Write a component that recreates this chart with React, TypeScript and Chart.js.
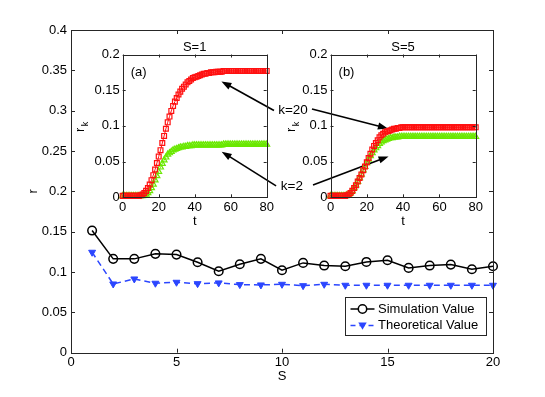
import React, { useEffect, useRef } from 'react';
import { Chart, registerables } from 'chart.js';

Chart.register(...registerables);

const FONT = '"Liberation Sans", Arial, Helvetica, sans-serif';
const BLUE = '#2b46ff';
const RED = '#ff1010';
const GREEN = '#6ae800';

// ---------- main chart data ----------
const S_VALUES = [1, 2, 3, 4, 5, 6, 7, 8, 9, 10, 11, 12, 13, 14, 15, 16, 17, 18, 19, 20];
const SIMULATION_VALUES = [0.1514, 0.1163, 0.1163, 0.1225, 0.1216, 0.1121, 0.101, 0.1096, 0.1163, 0.1022,
  0.1113, 0.108, 0.1072, 0.1125, 0.1146, 0.1051, 0.108, 0.1092, 0.1034, 0.1072];
const THEORETICAL_VALUES = [0.1245, 0.0852, 0.0914, 0.0861, 0.0873, 0.0856, 0.0865, 0.0844, 0.084, 0.0848,
  0.0831, 0.0848, 0.0836, 0.0836, 0.0836, 0.0836, 0.0836, 0.0836, 0.0836, 0.0836];
const S_TICKS = [0, 5, 10, 15, 20];
const S_TICK_LABELS = ['0', '5', '10', '15', '20'];
const R_TICKS = [0, 0.05, 0.1, 0.15, 0.2, 0.25, 0.3, 0.35, 0.4];
const R_TICK_LABELS = ['0', '0.05', '0.1', '0.15', '0.2', '0.25', '0.3', '0.35', '0.4'];

// ---------- inset data ----------
const T_VALUES = [0, 1, 2, 3, 4, 5, 6, 7, 8, 9, 10, 11, 12, 13, 14, 15, 16, 17, 18, 19, 20,
  21, 22, 23, 24, 25, 26, 27, 28, 29, 30, 31, 32, 33, 34, 35, 36, 37, 38, 39, 40,
  41, 42, 43, 44, 45, 46, 47, 48, 49, 50, 51, 52, 53, 54, 55, 56, 57, 58, 59, 60,
  61, 62, 63, 64, 65, 66, 67, 68, 69, 70, 71, 72, 73, 74, 75, 76, 77, 78, 79, 80];
const RK_K20_S1 = [
  0.002, 0.002, 0.002, 0.002, 0.002, 0.002, 0.002, 0.002, 0.002, 0.002,
  0.003, 0.004, 0.006, 0.009, 0.013, 0.018, 0.024, 0.031, 0.039, 0.048,
  0.057, 0.066, 0.076, 0.086, 0.096, 0.105, 0.113, 0.121, 0.128, 0.134,
  0.139, 0.144, 0.148, 0.152, 0.155, 0.158, 0.161, 0.163, 0.165, 0.167,
  0.168, 0.169, 0.170, 0.171, 0.172, 0.173, 0.173, 0.174, 0.174, 0.175,
  0.175, 0.175, 0.176, 0.176, 0.176, 0.176, 0.177, 0.177, 0.177, 0.177,
  0.177, 0.177, 0.177, 0.177, 0.177, 0.177, 0.177, 0.177, 0.177, 0.177,
  0.177, 0.177, 0.177, 0.177, 0.177, 0.177, 0.177, 0.177, 0.177, 0.177,
  0.177];
const RK_K2_S1 = [
  0.002, 0.002, 0.002, 0.002, 0.002, 0.002, 0.002, 0.002, 0.002, 0.002,
  0.002, 0.002, 0.003, 0.004, 0.006, 0.009, 0.013, 0.018, 0.024, 0.030,
  0.036, 0.042, 0.047, 0.052, 0.056, 0.060, 0.062, 0.064, 0.066, 0.067,
  0.068, 0.069, 0.070, 0.070, 0.071, 0.071, 0.072, 0.072, 0.072, 0.073,
  0.073, 0.073, 0.073, 0.073, 0.073, 0.073, 0.073, 0.073, 0.073, 0.073,
  0.073, 0.073, 0.073, 0.073, 0.073, 0.073, 0.074, 0.074, 0.074, 0.074,
  0.074, 0.074, 0.074, 0.074, 0.074, 0.074, 0.074, 0.074, 0.074, 0.074,
  0.074, 0.074, 0.074, 0.074, 0.074, 0.074, 0.074, 0.074, 0.074, 0.074,
  0.074];
const RK_K20_S5 = [
  0.002, 0.002, 0.002, 0.002, 0.002, 0.002, 0.002, 0.002, 0.002, 0.003,
  0.004, 0.006, 0.009, 0.013, 0.017, 0.022, 0.027, 0.032, 0.038, 0.043,
  0.049, 0.055, 0.061, 0.067, 0.072, 0.076, 0.080, 0.084, 0.087, 0.089,
  0.091, 0.092, 0.093, 0.094, 0.095, 0.096, 0.096, 0.097, 0.097, 0.098,
  0.098, 0.098, 0.098, 0.098, 0.098, 0.098, 0.098, 0.098, 0.098, 0.098,
  0.098, 0.098, 0.098, 0.098, 0.098, 0.098, 0.098, 0.098, 0.098, 0.098,
  0.098, 0.098, 0.098, 0.098, 0.098, 0.098, 0.098, 0.098, 0.098, 0.098,
  0.098, 0.098, 0.098, 0.098, 0.098, 0.098, 0.098, 0.098, 0.098, 0.098,
  0.098];
const RK_K2_S5 = [
  0.002, 0.002, 0.002, 0.002, 0.002, 0.002, 0.002, 0.002, 0.002, 0.003,
  0.004, 0.006, 0.009, 0.013, 0.017, 0.022, 0.027, 0.032, 0.038, 0.043,
  0.048, 0.053, 0.058, 0.062, 0.066, 0.069, 0.072, 0.075, 0.077, 0.079,
  0.080, 0.081, 0.082, 0.083, 0.083, 0.084, 0.084, 0.084, 0.085, 0.085,
  0.085, 0.085, 0.085, 0.085, 0.085, 0.085, 0.085, 0.085, 0.085, 0.085,
  0.085, 0.085, 0.085, 0.085, 0.085, 0.085, 0.085, 0.085, 0.085, 0.085,
  0.085, 0.085, 0.085, 0.085, 0.085, 0.085, 0.085, 0.085, 0.085, 0.085,
  0.085, 0.085, 0.085, 0.085, 0.085, 0.085, 0.085, 0.085, 0.085, 0.085,
  0.085];
const T_TICKS = [0, 20, 40, 60, 80];
const T_TICK_LABELS = ['0', '20', '40', '60', '80'];
const RK_TICKS = [0, 0.05, 0.1, 0.15, 0.2];
const RK_TICK_LABELS = ['0', '0.05', '0.1', '0.15', '0.2'];

// ---------- annotations (in main-axes S / r coordinates) ----------
const ARROW_FROM_S = [9.62, 11.42, 9.72, 11.47];
const ARROW_FROM_R = [0.3003, 0.3022, 0.2067, 0.2079];
const ARROW_TO_S = [7.13, 15.02, 7.14, 15.05];
const ARROW_TO_R = [0.3363, 0.278, 0.2492, 0.2433];
const ARROW_TEXTS = ['k=20', 'k=2'];
const ARROW_TEXT_S = [10.52, 10.47];
const ARROW_TEXT_R = [0.301, 0.2058];

const AXIS_COLOR = '#262626';

function drawFrame(chart: any, tickLen: number) {
  const { ctx, chartArea: a, scales } = chart;
  const xs = scales.x;
  const ys = scales.y;
  ctx.save();
  ctx.strokeStyle = AXIS_COLOR;
  ctx.lineWidth = 1;
  ctx.beginPath();
  xs.ticks.forEach((t: any) => {
    const px = Math.round(xs.getPixelForValue(t.value)) + 0.5;
    ctx.moveTo(px, a.bottom);
    ctx.lineTo(px, a.bottom - tickLen);
    ctx.moveTo(px, a.top);
    ctx.lineTo(px, a.top + tickLen);
  });
  ys.ticks.forEach((t: any) => {
    const py = Math.round(ys.getPixelForValue(t.value)) + 0.5;
    ctx.moveTo(a.left, py);
    ctx.lineTo(a.left + tickLen, py);
    ctx.moveTo(a.right, py);
    ctx.lineTo(a.right - tickLen, py);
  });
  ctx.stroke();
  ctx.strokeRect(Math.round(a.left) + 0.5, Math.round(a.top) + 0.5,
    Math.round(a.right) - Math.round(a.left), Math.round(a.bottom) - Math.round(a.top));
  ctx.restore();
}

function drawArrow(ctx: CanvasRenderingContext2D, x1: number, y1: number, x2: number, y2: number) {
  const ang = Math.atan2(y2 - y1, x2 - x1);
  const c = Math.cos(ang);
  const s = Math.sin(ang);
  const L = 10;
  const W = 3.6;
  ctx.beginPath();
  ctx.moveTo(x1, y1);
  ctx.lineTo(x2 - (L - 2) * c, y2 - (L - 2) * s);
  ctx.stroke();
  ctx.beginPath();
  ctx.moveTo(x2, y2);
  ctx.lineTo(x2 - L * c + W * s, y2 - L * s - W * c);
  ctx.lineTo(x2 - L * c - W * s, y2 - L * s + W * c);
  ctx.closePath();
  ctx.fill();
}

const mainDecor = {
  id: 'mainDecor',
  afterDraw(chart: any) {
    drawFrame(chart, 4);
    const { ctx, chartArea: a, scales } = chart;
    const xs = scales.x;
    const ys = scales.y;
    ctx.save();
    ctx.strokeStyle = '#000';
    ctx.fillStyle = '#000';
    ctx.lineWidth = 1.6;
    for (let i = 0; i < ARROW_FROM_S.length; i++) {
      drawArrow(ctx,
        xs.getPixelForValue(ARROW_FROM_S[i]), ys.getPixelForValue(ARROW_FROM_R[i]),
        xs.getPixelForValue(ARROW_TO_S[i]), ys.getPixelForValue(ARROW_TO_R[i]));
    }
    ctx.font = `13.5px ${FONT}`;
    ctx.textAlign = 'center';
    ctx.textBaseline = 'middle';
    for (let i = 0; i < ARROW_TEXTS.length; i++) {
      ctx.fillText(ARROW_TEXTS[i], xs.getPixelForValue(ARROW_TEXT_S[i]), ys.getPixelForValue(ARROW_TEXT_R[i]));
    }
    // legend
    const lx = Math.round(a.right - 148) + 0.5;
    const ly = Math.round(a.bottom - 56) + 0.5;
    const lw = 141;
    const lh = 38;
    ctx.fillStyle = '#fff';
    ctx.fillRect(lx, ly, lw, lh);
    ctx.strokeStyle = AXIS_COLOR;
    ctx.lineWidth = 1;
    ctx.strokeRect(lx, ly, lw, lh);
    const names = chart.data.datasets.map((d: any) => d.label);
    const rows = [ly + 11.5, ly + 28];
    const x0 = lx + 5;
    const x1 = lx + 29;
    const xm = (x0 + x1) / 2;
    ctx.strokeStyle = '#000';
    ctx.lineWidth = 1.5;
    ctx.beginPath();
    ctx.moveTo(x0, rows[0]);
    ctx.lineTo(x1, rows[0]);
    ctx.stroke();
    ctx.fillStyle = '#fff';
    ctx.beginPath();
    ctx.arc(xm, rows[0], 4.2, 0, Math.PI * 2);
    ctx.fill();
    ctx.stroke();
    ctx.strokeStyle = BLUE;
    ctx.fillStyle = BLUE;
    ctx.setLineDash([5, 4]);
    ctx.beginPath();
    ctx.moveTo(x0, rows[1]);
    ctx.lineTo(x1, rows[1]);
    ctx.stroke();
    ctx.setLineDash([]);
    ctx.beginPath();
    ctx.moveTo(xm - 4.2, rows[1] - 3);
    ctx.lineTo(xm + 4.2, rows[1] - 3);
    ctx.lineTo(xm, rows[1] + 4.2);
    ctx.closePath();
    ctx.fill();
    ctx.fillStyle = '#000';
    ctx.font = `13px ${FONT}`;
    ctx.textAlign = 'left';
    ctx.textBaseline = 'middle';
    ctx.fillText(names[0], x1 + 3.5, rows[0]);
    ctx.fillText(names[1], x1 + 3.5, rows[1]);
    ctx.restore();
  },
};

const insetDecor = {
  id: 'insetDecor',
  afterDraw(chart: any, _args: any, opts: any) {
    drawFrame(chart, 3);
    const { ctx, chartArea: a } = chart;
    ctx.save();
    ctx.fillStyle = '#000';
    ctx.font = `13px ${FONT}`;
    ctx.textAlign = 'center';
    ctx.textBaseline = 'middle';
    ctx.fillText(opts.title, (a.left + a.right) / 2, a.top - 7.5);
    ctx.fillText(opts.tag, a.left + 16, a.top + 17.5);
    const cx = a.left - opts.labelOffset;
    const cy = (a.top + a.bottom) / 2 + 4;
    ctx.translate(cx, cy);
    ctx.rotate(-Math.PI / 2);
    ctx.fillText('r', 0, 0);
    ctx.font = `9px ${FONT}`;
    ctx.fillText('k', 6, 5);
    ctx.restore();
  },
};

function points(xs: number[], ys: number[]) {
  return xs.map((x, i) => ({ x, y: ys[i] }));
}

function mainConfig(): any {
  return {
    type: 'line',
    data: {
      datasets: [
        {
          label: 'Simulation Value',
          data: points(S_VALUES, SIMULATION_VALUES),
          borderColor: '#000',
          borderWidth: 1.5,
          pointStyle: 'circle',
          pointRadius: 4.3,
          pointBorderWidth: 1.5,
          pointBackgroundColor: 'rgba(0,0,0,0)',
          pointBorderColor: '#000',
          order: 0,
          clip: false,
        },
        {
          label: 'Theoretical Value',
          data: points(S_VALUES, THEORETICAL_VALUES),
          borderColor: BLUE,
          borderWidth: 1.5,
          borderDash: [6, 4],
          pointStyle: 'triangle',
          pointRotation: 180,
          pointRadius: 4,
          pointBorderWidth: 1,
          pointBackgroundColor: BLUE,
          pointBorderColor: BLUE,
          order: 1,
          clip: false,
        },
      ],
    },
    options: {
      responsive: false,
      animation: false,
      devicePixelRatio: 1,
      events: [],
      layout: { padding: { left: 0, top: 30, right: 52, bottom: 0 } },
      plugins: { legend: { display: false }, tooltip: { enabled: false } },
      scales: {
        x: {
          type: 'linear',
          min: 0,
          max: 20,
          afterFit: (s: any) => { s.height = 44.3; },
          afterBuildTicks: (s: any) => { s.ticks = S_TICKS.map((v) => ({ value: v })); },
          ticks: { callback: (_v: any, i: number) => S_TICK_LABELS[i], padding: 2, autoSkip: false, maxRotation: 0, color: '#000', font: { size: 13 } },
          grid: { display: false, drawTicks: false },
          border: { display: false },
          title: { display: true, text: 'S', color: '#000', font: { size: 13 }, padding: { top: 0, bottom: 13 } },
        },
        y: {
          type: 'linear',
          min: 0,
          max: 0.4,
          afterFit: (s: any) => { s.width = 71; },
          afterBuildTicks: (s: any) => { s.ticks = R_TICKS.map((v) => ({ value: v })); },
          ticks: { callback: (_v: any, i: number) => R_TICK_LABELS[i], padding: 4, autoSkip: false, color: '#000', font: { size: 13 } },
          grid: { display: false, drawTicks: false },
          border: { display: false },
          title: { display: true, text: 'r', color: '#000', font: { size: 13 }, padding: { top: 26, bottom: 0 } },
        },
      },
    },
    plugins: [mainDecor],
  };
}

function insetConfig(red: number[], green: number[], left: number, right: number, title: string, tag: string, labelOffset: number): any {
  const top = 54.5;
  const bottom = 197.3;
  const yW = 40;
  const xH = 36;
  return {
    type: 'line',
    data: {
      datasets: [
        {
          label: 'k=20',
          data: points(T_VALUES, red),
          borderColor: RED,
          borderWidth: 1,
          pointStyle: 'rect',
          pointRadius: 3.4,
          pointBorderWidth: 1.2,
          pointBackgroundColor: 'rgba(0,0,0,0)',
          pointBorderColor: RED,
          order: 0,
          clip: false,
        },
        {
          label: 'k=2',
          data: points(T_VALUES, green),
          borderColor: GREEN,
          borderWidth: 1,
          pointStyle: 'triangle',
          pointRadius: 3.4,
          pointBorderWidth: 1.2,
          pointBackgroundColor: 'rgba(0,0,0,0)',
          pointBorderColor: GREEN,
          order: 1,
          clip: false,
        },
      ],
    },
    options: {
      responsive: false,
      animation: false,
      devicePixelRatio: 1,
      events: [],
      layout: { padding: { left: left - yW, top, right: 545 - right, bottom: 397 - bottom - xH } },
      plugins: {
        legend: { display: false },
        tooltip: { enabled: false },
        insetDecor: { title, tag, labelOffset },
      },
      scales: {
        x: {
          type: 'linear',
          min: 0,
          max: 80,
          afterFit: (s: any) => { s.height = xH; },
          afterBuildTicks: (s: any) => { s.ticks = T_TICKS.map((v) => ({ value: v })); },
          ticks: { callback: (_v: any, i: number) => T_TICK_LABELS[i], padding: 2, autoSkip: false, maxRotation: 0, color: '#000', font: { size: 13 } },
          grid: { display: false, drawTicks: false },
          border: { display: false },
          title: { display: true, text: 't', color: '#000', font: { size: 13 }, padding: { top: 0, bottom: 3.8 } },
        },
        y: {
          type: 'linear',
          min: 0,
          max: 0.2,
          afterFit: (s: any) => { s.width = yW; },
          afterBuildTicks: (s: any) => { s.ticks = RK_TICKS.map((v) => ({ value: v })); },
          ticks: { callback: (_v: any, i: number) => RK_TICK_LABELS[i], padding: 3, autoSkip: false, color: '#000', font: { size: 13 } },
          grid: { display: false, drawTicks: false },
          border: { display: false },
        },
      },
    },
    plugins: [insetDecor],
  };
}

export default function App() {
  const mainRef = useRef<HTMLCanvasElement>(null);
  const aRef = useRef<HTMLCanvasElement>(null);
  const bRef = useRef<HTMLCanvasElement>(null);

  useEffect(() => {
    document.body.style.margin = '0';
    Chart.defaults.font.family = FONT;
    Chart.defaults.font.size = 13;
    Chart.defaults.color = '#000';
    const charts = [
      new Chart(mainRef.current as HTMLCanvasElement, mainConfig()),
      new Chart(aRef.current as HTMLCanvasElement, insetConfig(RK_K20_S1, RK_K2_S1, 122.7, 266.7, 'S=1', '(a)', 42)),
      new Chart(bRef.current as HTMLCanvasElement, insetConfig(RK_K20_S5, RK_K2_S5, 330.5, 475.7, 'S=5', '(b)', 39)),
    ];
    return () => charts.forEach((c) => c.destroy());
  }, []);

  const cs: React.CSSProperties = { position: 'absolute', left: 0, top: 0, width: 545, height: 397, pointerEvents: 'none' };
  return (
    <div style={{ position: 'relative', width: 545, height: 397, background: '#fff' }}>
      <canvas ref={mainRef} width={545} height={397} style={cs} />
      <canvas ref={aRef} width={545} height={397} style={cs} />
      <canvas ref={bRef} width={545} height={397} style={cs} />
    </div>
  );
}
